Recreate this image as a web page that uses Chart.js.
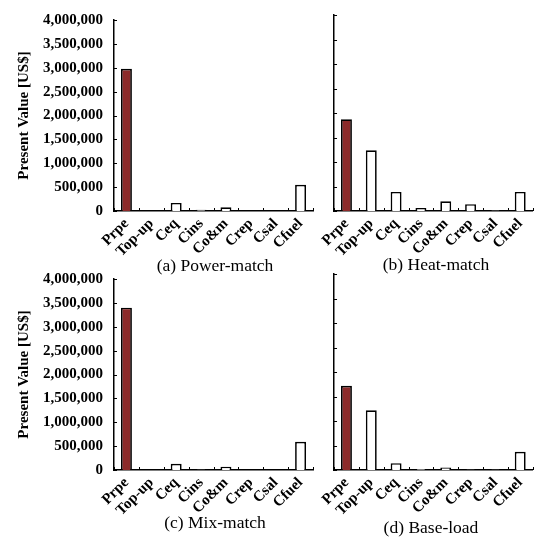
<!DOCTYPE html>
<html>
<head>
<meta charset="utf-8">
<script src="https://cdn.jsdelivr.net/npm/chart.js@4.4.0/dist/chart.umd.min.js"></script>
<style>
  html, body { margin:0; padding:0; background:#fff; }
  #wrap { position:relative; width:537px; height:537px; overflow:hidden; background:#fff; }
  canvas { position:absolute; }
  .cap { position:absolute; font-family:"Liberation Serif","Times New Roman",serif; font-size:17.5px; color:#000; white-space:nowrap; transform:translate(-50%,-50%); }
</style>
</head>
<body>
<div id="wrap">
  <canvas id="ca" width="320" height="270" style="left:0px;top:0px"></canvas>
  <canvas id="cb" width="217" height="270" style="left:320px;top:0px"></canvas>
  <canvas id="cc" width="320" height="270" style="left:0px;top:259px"></canvas>
  <canvas id="cd" width="217" height="270" style="left:320px;top:259px"></canvas>
  <div class="cap" style="left:215px;top:265px">(a) Power-match</div>
  <div class="cap" style="left:436px;top:264px">(b) Heat-match</div>
  <div class="cap" style="left:215px;top:522px">(c) Mix-match</div>
  <div class="cap" style="left:431px;top:527px">(d) Base-load</div>
</div>
<script>
const categories = ["Prpe", "Top-up", "Ceq", "Cins", "Co&m", "Crep", "Csal", "Cfuel"];
const powerMatch = [2980000, 0, 170000, 25000, 80000, 0, 0, 550000];
const heatMatch  = [1870000, 1240000, 390000, 60000, 200000, 140000, 15000, 390000];
const mixMatch   = [3400000, 0, 130000, 10000, 70000, 0, 0, 590000];
const baseLoad   = [1720000, 1220000, 140000, 20000, 50000, 10000, 10000, 370000];
const yMax = 4000000;
const yStep = 500000;
const yTitle = "Present Value [US$]";

const RED = "#8c2a2a";
const serif = "'Liberation Serif','Times New Roman',serif";

const innerTicks = {
  id: 'innerTicks',
  afterDraw(chart) {
    const ctx = chart.ctx, a = chart.chartArea;
    const ys = chart.scales.y, xs = chart.scales.x;
    ctx.save();
    ctx.strokeStyle = '#000';
    ctx.lineWidth = 1;
    ys.ticks.forEach((t, i) => {
      const py = Math.round(ys.getPixelForTick(i)) + 0.5;
      ctx.beginPath(); ctx.moveTo(a.left, py); ctx.lineTo(a.left + 3, py); ctx.stroke();
    });
    for (let i = 0; i <= categories.length; i++) {
      const px = Math.round(xs.getPixelForValue(i - 0.5)) + 0.5;
      ctx.beginPath(); ctx.moveTo(px, a.bottom); ctx.lineTo(px, a.bottom - 3); ctx.stroke();
    }
    ctx.restore();
  }
};

function makeChart(id, values, withLabels) {
  const yWidth = withLabels ? 114 : 13;
  const rightPad = withLabels ? 7 : 2;
  new Chart(document.getElementById(id), {
    type: 'bar',
    data: {
      labels: categories,
      datasets: [{
        data: values,
        backgroundColor: categories.map((c, i) => i === 0 ? RED : '#ffffff'),
        borderColor: '#000',
        borderWidth: 1.7,
        borderSkipped: 'bottom',
        barPercentage: 0.44,
        categoryPercentage: 1.0
      }]
    },
    options: {
      responsive: false,
      animation: false,
      devicePixelRatio: 1,
      layout: { padding: { top: 15, right: rightPad, left: 0, bottom: 0 } },
      plugins: { legend: { display: false }, tooltip: { enabled: false } },
      scales: {
        x: {
          grid: { display: false, drawTicks: false },
          border: { display: true, color: '#000', width: 1.5 },
          ticks: {
            autoSkip: false, minRotation: 45, maxRotation: 45, padding: 4,
            color: '#000', font: { family: serif, size: 15, weight: 'bold' }
          },
          afterFit(s) { s.height = 270 - 211; }
        },
        y: {
          min: 0, max: yMax,
          grid: { display: false, drawTicks: false },
          border: { display: true, color: '#000', width: 1.5 },
          ticks: {
            stepSize: yStep, display: withLabels, padding: 11,
            color: '#000', font: { family: serif, size: 15, weight: 'bold' }
          },
          title: {
            display: withLabels, text: yTitle, color: '#000',
            padding: { top: 15, bottom: 0 },
            font: { family: serif, size: 15, weight: 'bold' }
          },
          afterFit(s) { s.width = yWidth; }
        }
      }
    },
    plugins: [innerTicks]
  });
}

makeChart('ca', powerMatch, true);
makeChart('cb', heatMatch, false);
makeChart('cc', mixMatch, true);
makeChart('cd', baseLoad, false);
</script>
</body>
</html>
